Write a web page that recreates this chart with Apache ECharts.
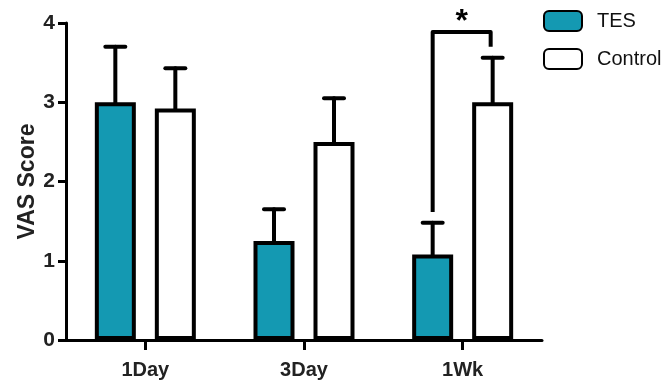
<!DOCTYPE html>
<html>
<head>
<meta charset="utf-8">
<script src="https://cdn.jsdelivr.net/npm/echarts@6/dist/echarts.min.js"></script>
<style>
    html, body { margin: 0; padding: 0; background: #fff; }
    #main { width: 664px; height: 385px; }
</style>
</head>
<body>
<div id="main"></div>
<script>
// data
var categories = ['1Day', '3Day', '1Wk'];
var tesMean = [3.0, 1.25, 1.08];
var tesErr = [0.70, 0.40, 0.40];
var ctrlMean = [2.92, 2.5, 3.0];
var ctrlErr = [0.51, 0.55, 0.56];
var yTicks = [0, 1, 2, 3, 4];
// significance bracket: category, top, left leg end, right leg end
var bracket = [[2, 3.886, 1.615, 3.70]];

var TEAL = '#1499b2';
var BAR_W = 41, BAR_GAP = 19;
var OFFSET = (BAR_W + BAR_GAP) / 2;

function errData(mean, err) {
    var out = [];
    for (var i = 0; i < mean.length; i++) {
        out.push([i, mean[i], mean[i] + err[i]]);
    }
    return out;
}

function errRender(shift) {
    return function (params, api) {
        var base = api.coord([api.value(0), api.value(1)]);
        var top = api.coord([api.value(0), api.value(2)]);
        var x = base[0] + shift;
        var style = { stroke: '#000', lineWidth: 4, lineCap: 'round' };
        return {
            type: 'group',
            children: [
                { type: 'line', shape: { x1: x, y1: base[1], x2: x, y2: top[1] }, style: style },
                { type: 'line', shape: { x1: x - 10, y1: top[1], x2: x + 10, y2: top[1] }, style: style }
            ]
        };
    };
}

function bracketRender(params, api) {
    var c = api.coord([api.value(0), api.value(1)]);
    var l = api.coord([api.value(0), api.value(2)]);
    var r = api.coord([api.value(0), api.value(3)]);
    var x1 = c[0] - OFFSET, x2 = c[0] + OFFSET - 2;
    return {
        type: 'group',
        children: [
            {
                type: 'polyline',
                shape: { points: [[x1, l[1]], [x1, c[1]], [x2, c[1]], [x2, r[1]]] },
                style: { stroke: '#000', lineWidth: 4, fill: null, lineJoin: 'round' }
            },
            {
                type: 'text',
                style: {
                    x: (x1 + x2) / 2, y: c[1] + 6, text: '*',
                    fontSize: 32, fontWeight: 'bold', fontFamily: 'Liberation Sans',
                    fill: '#000', align: 'center', verticalAlign: 'bottom'
                }
            }
        ]
    };
}

var chart = echarts.init(document.getElementById('main'));
var option = {
    animation: false,
    backgroundColor: '#fff',
    grid: { left: 66, right: 122, top: 23, bottom: 45 },
    legend: {
        orient: 'vertical',
        left: 543,
        top: 10,
        padding: 0,
        itemWidth: 38,
        itemHeight: 20,
        itemGap: 16,
        icon: 'roundRect',
        data: ['TES', 'Control'],
        textStyle: { fontSize: 20, fontFamily: 'Liberation Sans', color: '#111', padding: [0, 0, 0, 10] }
    },
    xAxis: {
        type: 'category',
        data: categories,
        axisLine: { lineStyle: { color: '#000', width: 3 } },
        axisTick: { show: true, alignWithLabel: true, length: 10, lineStyle: { color: '#000', width: 3 } },
        axisLabel: {
            fontSize: 20, fontWeight: 'bold', fontFamily: 'Liberation Sans',
            color: '#222', margin: 20
        }
    },
    yAxis: {
        type: 'value',
        min: yTicks[0],
        max: yTicks[yTicks.length - 1],
        interval: 1,
        name: 'VAS Score',
        nameLocation: 'middle',
        nameGap: 27,
        nameMoveOverlap: false,
        nameTextStyle: { fontSize: 23, fontWeight: 'bold', fontFamily: 'Liberation Sans', color: '#222' },
        splitLine: { show: false },
        axisLine: { show: true, lineStyle: { color: '#000', width: 3 } },
        axisTick: { show: true, length: 8, lineStyle: { color: '#000', width: 3 } },
        axisLabel: {
            fontSize: 21, fontWeight: 'bold', fontFamily: 'Liberation Sans',
            color: '#222', margin: 11
        }
    },
    series: [
        {
            name: 'TES',
            type: 'bar',
            data: tesMean,
            barWidth: BAR_W,
            barGap: (BAR_GAP / BAR_W * 100) + '%',
            itemStyle: { color: TEAL, borderColor: '#000', borderWidth: 4 },
            z: 3
        },
        {
            name: 'Control',
            type: 'bar',
            data: ctrlMean,
            barWidth: BAR_W,
            itemStyle: { color: '#fff', borderColor: '#000', borderWidth: 4 },
            z: 3
        },
        {
            type: 'custom',
            data: errData(tesMean, tesErr),
            encode: { x: 0, y: [1, 2] },
            renderItem: errRender(-OFFSET),
            z: 2
        },
        {
            type: 'custom',
            data: errData(ctrlMean, ctrlErr),
            encode: { x: 0, y: [1, 2] },
            renderItem: errRender(OFFSET),
            z: 2
        },
        {
            type: 'custom',
            data: bracket,
            encode: { x: 0, y: [1, 2, 3] },
            renderItem: bracketRender,
            clip: false,
            z: 4
        }
    ]
};
chart.setOption(option);
</script>
</body>
</html>
